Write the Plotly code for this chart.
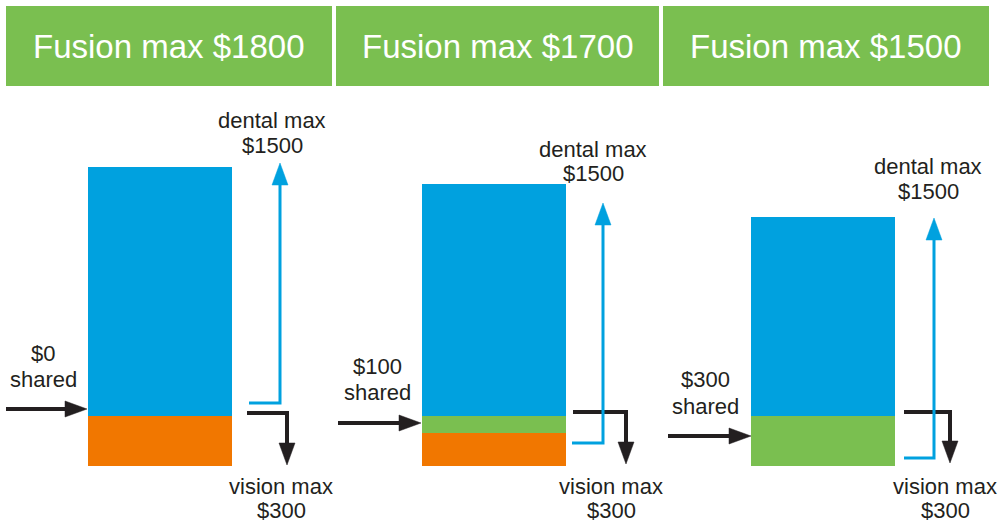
import plotly.graph_objects as go

# ---------------- data ----------------
plans = ["Fusion max $1800", "Fusion max $1700", "Fusion max $1500"]
vision_only = [300, 200, 0]       # orange
shared = [0, 100, 300]            # green
dental_only = [1500, 1400, 1200]  # blue
shared_labels = ["$0", "$100", "$300"]
dental_max_label = "$1500"
vision_max_label = "$300"

# ---------------- styling ----------------
W, H = 1000, 523
GREEN = "#7abf50"
BLUE = "#00a1df"
ORANGE = "#f17700"
DARK = "#231f20"
FONT = "Liberation Sans, Arial, Helvetica, sans-serif"

bar_centers = [160, 494, 823]
bar_width = 144
base_px = 466          # pixel row of value 0
px_per_unit = 0.166

def py(p):
    """pixel row -> paper y"""
    return 1 - p / H

fig = go.Figure()
for vals, col, name in [(vision_only, ORANGE, "vision only"),
                        (shared, GREEN, "shared"),
                        (dental_only, BLUE, "dental only")]:
    fig.add_trace(go.Bar(x=bar_centers, y=vals, width=bar_width,
                         marker=dict(color=col, line=dict(width=0)),
                         name=name, hoverinfo="skip", showlegend=False))

shapes = []
annotations = []

# header boxes
header_boxes = [(6, 332), (336, 659), (663, 989)]
for (x0, x1), title in zip(header_boxes, plans):
    shapes.append(dict(type="rect", xref="x", yref="paper", x0=x0, x1=x1,
                       y0=py(86), y1=py(6), fillcolor=GREEN, line=dict(width=0),
                       layer="below"))
    annotations.append(dict(x=(x0 + x1) / 2, y=py(46), xref="x", yref="paper",
                            text=title, showarrow=False, xanchor="center",
                            yanchor="middle",
                            font=dict(family=FONT, size=33, color="white")))

def path_line(pts, color, width):
    d = "M " + " L ".join(f"{x},{py(y)}" for x, y in pts)
    shapes.append(dict(type="path", xref="x", yref="paper", path=d,
                       line=dict(color=color, width=width), layer="above"))

def tri(pts, color):
    d = "M " + " L ".join(f"{x},{py(y)}" for x, y in pts) + " Z"
    shapes.append(dict(type="path", xref="x", yref="paper", path=d,
                       fillcolor=color, line=dict(color=color, width=0.5),
                       layer="above"))

def arrow_right(x0, x_tip, y, color):
    path_line([(x0, y), (x_tip - 20, y)], color, 4)
    tri([(x_tip - 22, y - 8), (x_tip, y), (x_tip - 22, y + 8)], color)

def arrow_L_down(x0, xv, y, y_tip, color):
    path_line([(x0, y), (xv, y), (xv, y_tip - 20)], color, 4)
    tri([(xv - 8, y_tip - 22), (xv, y_tip), (xv + 8, y_tip - 22)], color)

def arrow_L_up(x0, xv, y, y_tip, color):
    path_line([(x0, y), (xv, y), (xv, y_tip + 20)], color, 3)
    tri([(xv - 8, y_tip + 22), (xv, y_tip), (xv + 8, y_tip + 22)], color)

# per-panel arrows geometry (pixels)
left_arrows = [(6, 87, 409), (338, 421, 423), (668, 751, 436)]
black_L = [(247, 287, 413, 465), (573, 626, 412, 464), (904, 950, 412, 463)]
blue_L = [(249, 280, 403, 163), (572, 603, 443, 203), (904, 934, 458, 218)]

for (x0, xt, y) in left_arrows:
    arrow_right(x0, xt, y, DARK)
for (x0, xv, y, yt) in black_L:
    arrow_L_down(x0, xv, y, yt, DARK)
for (x0, xv, y, yt) in blue_L:
    arrow_L_up(x0, xv, y, yt, BLUE)

def label(x, y, text):
    annotations.append(dict(x=x, y=py(y), xref="x", yref="paper", text=text,
                            showarrow=False, xanchor="center", yanchor="middle",
                            borderpad=0,
                            font=dict(family=FONT, size=22, color=DARK)))

shared_pos = [(43, 353, 379), (377, 366, 392), (705, 379, 406)]
dental_pos = [(272, 121, 146), (593, 149, 174), (928, 166, 191)]
vision_pos = [(281, 487, 510), (611, 487, 510), (945, 487, 510)]

for (x, y1, y2), s in zip(shared_pos, shared_labels):
    label(x, y1, s)
    label(x, y2, "shared")
for (x, y1, y2) in dental_pos:
    label(x, y1, "dental max")
    label(x, y2, dental_max_label)
for (x, y1, y2) in vision_pos:
    label(x, y1, "vision max")
    label(x, y2, vision_max_label)

ymin = -(H - base_px) / px_per_unit
ymax = base_px / px_per_unit

fig.update_layout(
    width=W, height=H, autosize=False,
    margin=dict(l=0, r=0, t=0, b=0, pad=0),
    barmode="stack", bargap=0,
    plot_bgcolor="white", paper_bgcolor="white",
    xaxis=dict(range=[0, W], visible=False, fixedrange=True),
    yaxis=dict(range=[ymin, ymax], visible=False, fixedrange=True),
    shapes=shapes, annotations=annotations,
    showlegend=False,
)

fig.write_html("out.html", config={"displayModeBar": False},
               post_script="document.body.style.margin='0';"
                           "document.body.style.overflow='hidden';")
